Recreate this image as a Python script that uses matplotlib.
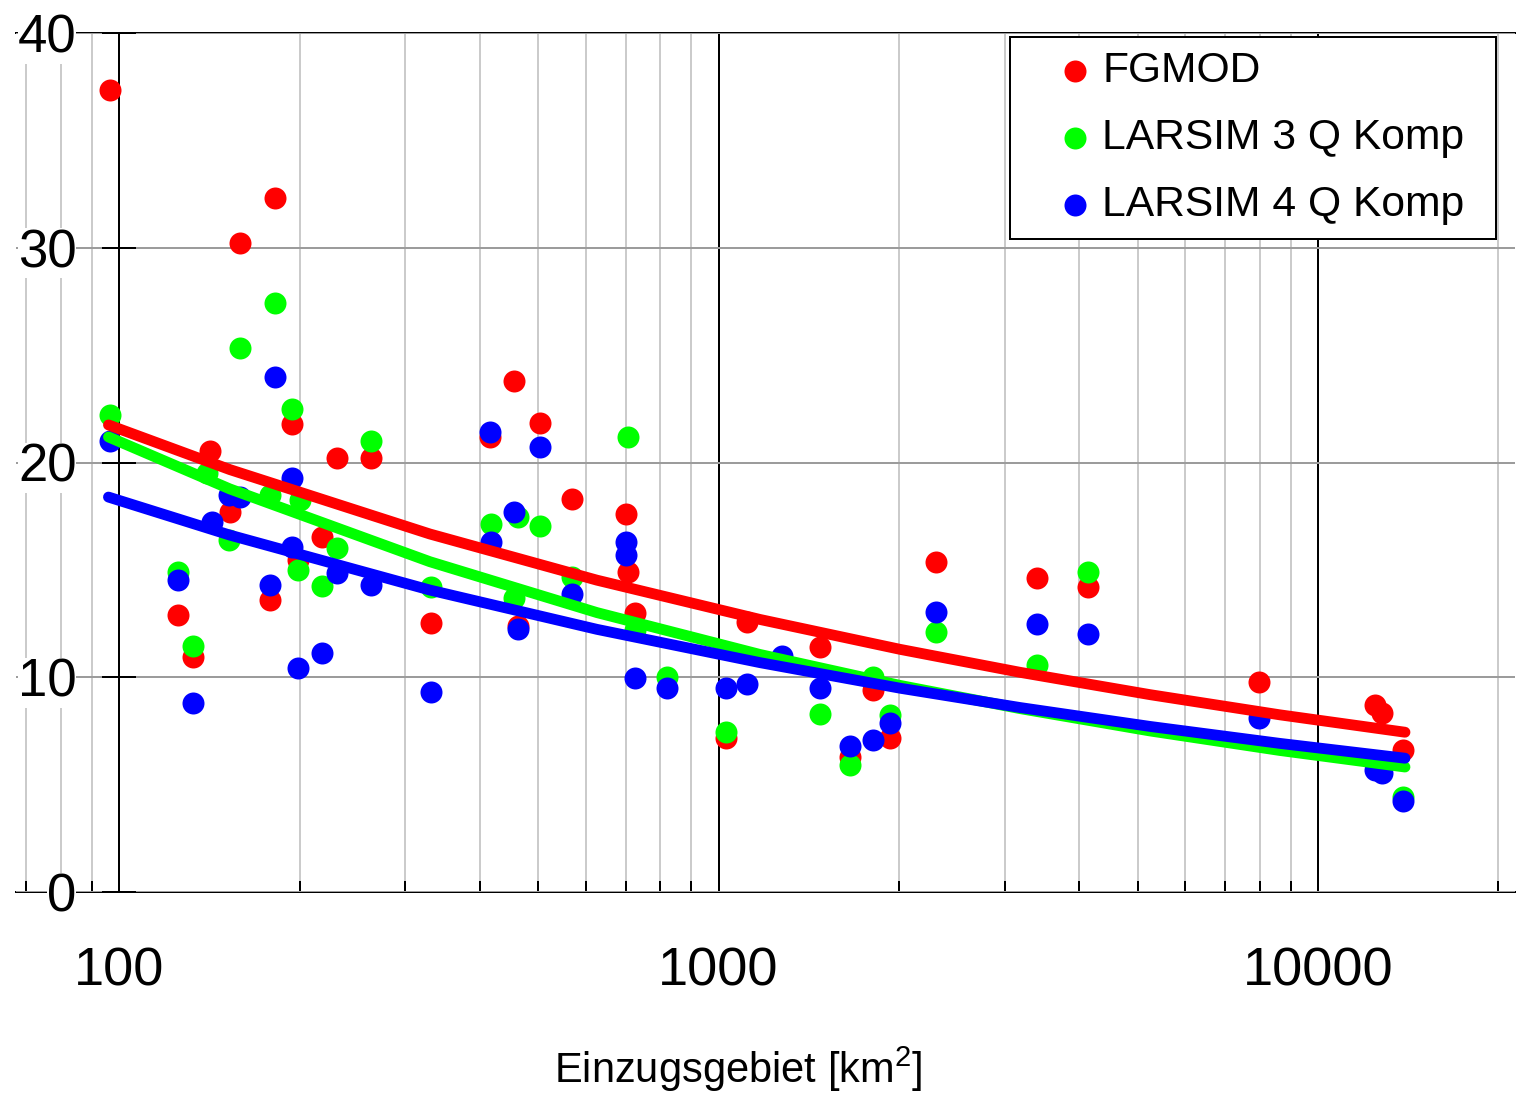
import matplotlib
matplotlib.use('Agg')
import matplotlib.pyplot as plt
from matplotlib.ticker import FixedLocator, NullFormatter

plt.rcParams['font.family'] = ['Liberation Sans', 'DejaVu Sans']
plt.rcParams['mathtext.fontset'] = 'custom'
plt.rcParams['mathtext.rm'] = 'Liberation Sans'
plt.rcParams['mathtext.it'] = 'Liberation Sans'

# ---------------- data ----------------
series_names = ['FGMOD', 'LARSIM 3 Q Komp', 'LARSIM 4 Q Komp']
series_colors = ['#ff0000', '#00ff00', '#0000ff']

fgmod_x = [96.6, 182.0, 159.2, 141.9, 194.4, 231.0, 263.3, 153.1, 125.4, 132.9,
           178.6, 218.2, 199.0, 331.5, 456.0, 503.7, 415.8, 569.7, 701, 706,
           725.7, 463.1, 1029, 1116, 1477, 1810, 1932, 1657, 2306, 3398,
           4134, 7970, 12450, 12790, 13860]
fgmod_y = [37.35, 32.32, 30.22, 20.54, 21.79, 20.21, 20.21, 17.69, 12.90, 10.94,
           13.60, 16.53, 15.46, 12.53, 23.79, 21.84, 21.19, 18.30, 17.60, 14.90,
           12.99, 12.39, 7.17, 12.57, 11.41, 9.41, 7.17, 6.29, 15.37, 14.62,
           14.20, 9.78, 8.71, 8.34, 6.61]

larsim3_x = [96.6, 182.0, 159.2, 194.4, 263.3, 125.4, 132.9, 152.6, 140.2, 178.6,
             200.4, 198.5, 218.2, 231.0, 331.5, 417.4, 463.1, 503.7, 456.0, 569.7,
             706, 725.7, 820.5, 1029, 1477, 1657, 1932, 1810, 2306, 3398,
             4134, 12450, 13860]
larsim3_y = [22.21, 27.43, 25.33, 22.49, 21.00, 14.90, 11.46, 16.39, 19.51, 18.49,
             18.25, 14.99, 14.25, 16.02, 14.20, 17.14, 17.46, 17.04, 13.69, 14.67,
             21.19, 12.20, 10.02, 7.45, 8.29, 5.91, 8.24, 10.00, 12.11, 10.57,
             14.90, 5.96, 4.42]

larsim4_x = [96.6, 182.0, 159.2, 152.6, 194.4, 125.4, 132.9, 142.9, 178.6, 194.4,
             199.0, 218.2, 231.0, 263.3, 331.5, 415.8, 417.4, 456.0, 463.1, 503.7,
             569.7, 701, 701, 725.7, 820.5, 1029, 1116, 1276, 1477, 1657,
             1810, 1932, 2306, 3398, 4134, 7970, 12450, 12790, 13860]
larsim4_y = [21.00, 23.98, 18.39, 18.49, 19.28, 14.53, 8.80, 17.23, 14.30, 16.07,
             10.43, 11.13, 14.85, 14.30, 9.31, 21.42, 16.30, 17.69, 12.25, 20.72,
             13.88, 16.30, 15.69, 9.96, 9.50, 9.50, 9.69, 11.00, 9.50, 6.80,
             7.08, 7.87, 13.04, 12.48, 12.02, 8.10, 5.68, 5.54, 4.24]

# trend curves
trend_x = [96, 153, 330, 627, 1173, 2008, 3184, 5245, 8640, 13970]
trend_fgmod = [21.75, 19.67, 16.67, 14.52, 12.69, 11.30, 10.23, 9.19, 8.25, 7.44]
trend_larsim3 = [21.19, 18.77, 15.38, 13.01, 11.06, 9.62, 8.54, 7.50, 6.59, 5.82]
trend_larsim4 = [18.39, 16.62, 14.06, 12.23, 10.68, 9.49, 8.59, 7.71, 6.92, 6.23]

x_major = [100, 1000, 10000]
x_major_labels = ['100', '1000', '10000']
y_ticks = [0, 10, 20, 30, 40]
y_tick_labels = ['0', '10', '20', '30', '40']
x_label = 'Einzugsgebiet [km$^{2}$]'

# ---------------- figure ----------------
W, H = 1519, 1095
PX = 0.72  # points per pixel at dpi 100
fig = plt.figure(figsize=(W / 100, H / 100), dpi=100)
ax = fig.add_axes([16 / W, (H - 892) / H, (1515 - 16) / W, (892 - 33) / H])
ax.set_xscale('log')
ax.set_xlim(67.3, 21316)
ax.set_ylim(0, 40)

# points
xs = [fgmod_x, larsim3_x, larsim4_x]
ys = [fgmod_y, larsim3_y, larsim4_y]
scs = []
for x, y, c, n in zip(xs, ys, series_colors, series_names):
    scs.append(ax.scatter(x, y, s=(22 * PX) ** 2, color=c, linewidths=0,
                          zorder=3, label=n))
# trend curves
for ty, c in zip([trend_fgmod, trend_larsim3, trend_larsim4], series_colors):
    ax.plot(trend_x, ty, color=c, lw=7.8, solid_capstyle='round',
            solid_joinstyle='round', zorder=4)

# ticks & grid
ax.xaxis.set_major_locator(FixedLocator(x_major))
ax.set_xticks(x_major, labels=x_major_labels)
minor = [m * 10 ** e for e in (1, 2, 3, 4) for m in range(2, 10)]
ax.xaxis.set_minor_locator(FixedLocator(minor))
ax.xaxis.set_minor_formatter(NullFormatter())
ax.set_yticks(y_ticks, labels=y_tick_labels)

ax.grid(True, which='major', axis='x', color='black', lw=2 * PX)
ax.grid(True, which='minor', axis='x', color='#cbcbcb', lw=2 * PX)
ax.grid(True, which='major', axis='y', color='#9c9c9c', lw=2 * PX)

ax.tick_params(axis='x', which='both', direction='in', length=11 * PX,
               width=2 * PX, top=False, color='black')
ax.tick_params(axis='x', which='major', pad=39, labelsize=39)
ax.tick_params(axis='y', which='major', direction='inout', length=34 * PX,
               width=2 * PX, right=False, pad=18.5, labelsize=38)

for sp in ('left', 'right'):
    ax.spines[sp].set_visible(False)
ax.spines['left'].set_position(('data', 100))
for sp in ('top', 'bottom'):
    ax.spines[sp].set_linewidth(2 * PX)
    ax.spines[sp].set_color('black')
    ax.spines[sp].set_zorder(0.4)

for lab in ax.get_yticklabels():
    lab.set_bbox(dict(facecolor='white', edgecolor='none', pad=0))

# x label
ax.set_xlabel(x_label, fontsize=30)
ax.xaxis.set_label_coords((738 - 16) / 1499, (892 - 1083) / 859)
ax.xaxis.label.set_verticalalignment('baseline')

# legend
leg = ax.legend(handles=scs, labels=series_names, loc='upper left',
                bbox_to_anchor=(1010 / W, (H - 240) / H, 486 / W, 203 / H),
                bbox_transform=fig.transFigure, mode='expand',
                fontsize=30.7, scatterpoints=1, frameon=True, fancybox=False,
                framealpha=1, borderpad=0.33, labelspacing=0.63,
                handlelength=2.39, handletextpad=-0.56, borderaxespad=0)
leg.get_frame().set_edgecolor('black')
leg.get_frame().set_linewidth(2 * PX)
leg.set_zorder(10)

fig.savefig('out.png', dpi=100)
